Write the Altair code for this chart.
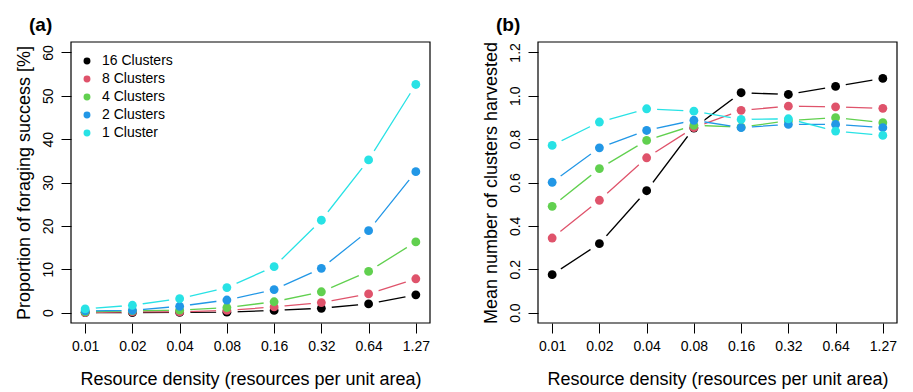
import altair as alt
import pandas as pd

density = ["0.01", "0.02", "0.04", "0.08", "0.16", "0.32", "0.64", "1.27"]
series = ["16 Clusters", "8 Clusters", "4 Clusters", "2 Clusters", "1 Cluster"]
colors = ["#000000", "#DF536B", "#61D04F", "#2297E6", "#28E2E5"]

success_16 = [0.0, 0.0, 0.05, 0.1, 0.5, 1.0, 2.0, 4.1]
success_8 = [0.0, 0.15, 0.15, 0.5, 1.3, 2.3, 4.3, 7.8]
success_4 = [0.15, 0.4, 0.55, 1.15, 2.5, 4.8, 9.5, 16.3]
success_2 = [0.4, 0.5, 1.46, 2.9, 5.3, 10.2, 18.9, 32.5]
success_1 = [0.85, 1.69, 3.2, 5.76, 10.6, 21.3, 35.2, 52.6]

harvest_16 = [0.175, 0.318, 0.562, 0.851, 1.014, 1.006, 1.043, 1.080]
harvest_8 = [0.344, 0.518, 0.714, 0.853, 0.933, 0.952, 0.949, 0.942]
harvest_4 = [0.490, 0.664, 0.794, 0.864, 0.855, 0.885, 0.899, 0.876]
harvest_2 = [0.601, 0.760, 0.840, 0.887, 0.853, 0.868, 0.868, 0.853]
harvest_1 = [0.771, 0.879, 0.940, 0.929, 0.891, 0.894, 0.837, 0.817]

W, H = 359, 281
FONT = "Liberation Sans"


def make_df(lists):
    rows = []
    for s, vals in zip(series, lists):
        for d, v in zip(density, vals):
            rows.append({"density": d, "series": s, "value": v})
    return pd.DataFrame(rows)


df_a = make_df([success_16, success_8, success_4, success_2, success_1])
df_b = make_df([harvest_16, harvest_8, harvest_4, harvest_2, harvest_1])


def panel(df, label, ytitle, domain, ticks, fmt, show_legend):
    x = alt.X(
        "density:N",
        sort=density,
        scale=alt.Scale(type="point", padding=0.3),
        axis=alt.Axis(
            title="Resource density (resources per unit area)",
            labelAngle=0,
            domain=False,
            tickSize=10,
            tickColor="black",
            labelPadding=6,
            titlePadding=17,
        ),
    )
    y = alt.Y(
        "value:Q",
        scale=alt.Scale(domain=domain, nice=False, zero=False),
        axis=alt.Axis(
            title=ytitle,
            values=ticks,
            format=fmt,
            labelAngle=270,
            labelAlign="center",
            labelBaseline="bottom",
            domain=False,
            grid=False,
            tickSize=10,
            tickColor="black",
            labelPadding=6,
            titlePadding=8,
        ),
    )
    legend = (
        alt.Legend(
            title=None,
            orient="none",
            legendX=9,
            legendY=12,
            symbolType="circle",
            symbolSize=48,
            symbolStrokeWidth=0,
            labelFontSize=14,
            labelFont=FONT,
            labelOffset=8,
            rowPadding=4,
            padding=0,
        )
        if show_legend
        else None
    )
    color = alt.Color(
        "series:N",
        sort=series,
        scale=alt.Scale(domain=series, range=colors),
        legend=legend,
    )
    base = alt.Chart(df)
    lines = base.mark_line(strokeWidth=1.3).encode(
        x=x, y=y, color=color, detail="series:N",
    )
    halos = base.mark_point(
        filled=True, opacity=1, shape="circle"
    ).encode(x=x, y=y, color=alt.value("white"), size=alt.value(450))
    points = base.mark_circle(size=78, opacity=1).encode(x=x, y=y, color=color)
    frame = alt.Chart(pd.DataFrame({"f": [0]})).mark_rect(
        fill=None, stroke="black", strokeWidth=1.2
    ).encode(x=alt.value(0), x2=alt.value(W), y=alt.value(0), y2=alt.value(H))
    return alt.layer(lines, halos, points, frame).properties(
        width=W,
        height=H,
        title=alt.TitleParams(
            label,
            anchor="start",
            frame="group",
            dx=-42,
            fontSize=19,
            fontWeight="bold",
            font=FONT,
            offset=6,
        ),
    )


pa = panel(df_a, "(a)", "Proportion of foraging success [%]", [-2.4, 62.4],
           [0, 10, 20, 30, 40, 50, 60], "d", True)
pb = panel(df_b, "(b)", "Mean number of clusters harvested", [-0.048, 1.248],
           [0.0, 0.2, 0.4, 0.6, 0.8, 1.0, 1.2], ".1f", False)

chart = (
    alt.hconcat(pa, pb, spacing=50)
    .resolve_scale(color="independent")
    .properties(padding={"left": 6, "top": 8, "right": 5, "bottom": 5})
    .configure_view(stroke=None)
    .configure_axis(
        labelFont=FONT,
        titleFont=FONT,
        labelFontSize=14,
        titleFontSize=18,
        titleFontWeight="normal",
        labelColor="black",
        titleColor="black",
        tickWidth=1,
    )
    .configure_legend(labelColor="black")
)

chart.save("out.html", embed_options={"renderer": "svg", "actions": False})
